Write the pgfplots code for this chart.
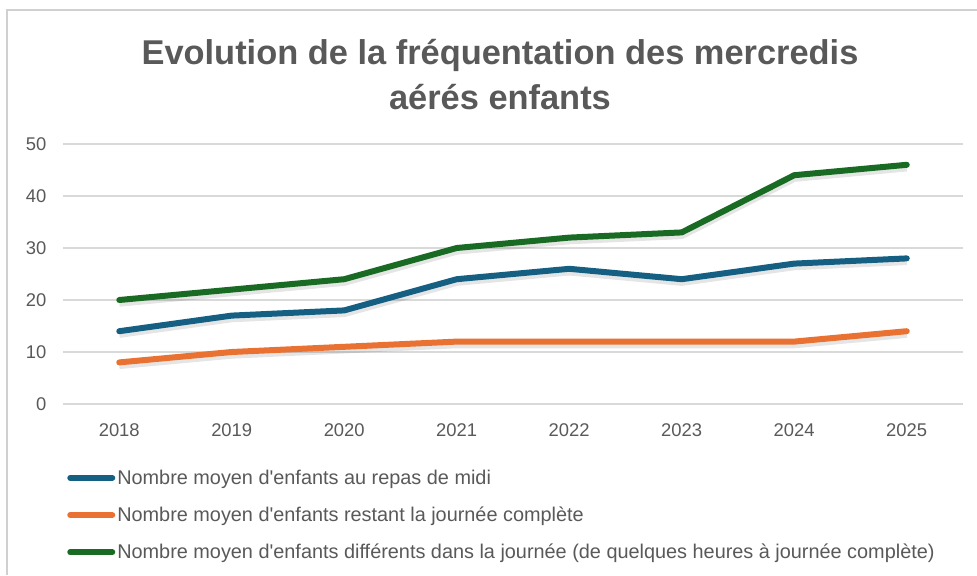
\documentclass[border=0pt]{standalone}
\usepackage{pgfplots}
\pgfplotsset{compat=1.18}
\usepackage{pgfplotstable}
\usepackage{fontspec}
\setmainfont{Liberation Sans}
\definecolor{cblue}{HTML}{156082}
\definecolor{corange}{HTML}{E97132}
\definecolor{cgreen}{HTML}{196B24}
\definecolor{ctext}{HTML}{595959}
\definecolor{cgrid}{HTML}{D9D9D9}
\definecolor{cframe}{HTML}{D0D0D0}

\pgfplotstableread{
year blue orange green
2018 14 8 20
2019 17 10 22
2020 18 11 24
2021 24 12 30
2022 26 12 32
2023 24 12 33
2024 27 12 44
2025 28 14 46
}\data

\begin{document}
\begin{tikzpicture}
\useasboundingbox (0,0) rectangle (732.75pt,431.25pt);
\draw[line width=1pt, cframe] (5.25pt,0) -- (5.25pt,423.75pt) -- (732.75pt,423.75pt);
\node[font=\fontsize{25.8}{34}\selectfont\bfseries, text=ctext, align=center] at (375pt,375.4pt)
  {Evolution de la fréquentation des mercredis\\aérés enfants};
\begin{axis}[
  at={(47.25pt,128.25pt)}, anchor=south west,
  scale only axis, width=675pt, height=195pt,
  xmin=2017.5, xmax=2025.5, ymin=0, ymax=50,
  xtick={2018,2019,...,2025}, ytick={0,10,...,50},
  xticklabel style={/pgf/number format/1000 sep={}, yshift=-11.5pt},
  yticklabel style={xshift=-9pt},
  axis line style={draw=none},
  ymajorgrids, grid style={cgrid, line width=1pt},
  major tick length=0pt,
  tick label style={font=\fontsize{13.8}{16}\selectfont, text=ctext},
  /pgf/number format/assume math mode=true,
  clip=false,
  legend cell align=left,
  legend style={at={(0,0)}, anchor=north west, xshift=3pt, yshift=-47pt,
    draw=none, fill=none, inner sep=0pt, row sep=11.5pt,
    font=\fontsize{14.9}{17}\selectfont, text=ctext,
    nodes={inner xsep=1.5pt}},
  legend image code/.code={\draw[#1, line width=4.5pt, line cap=round] (2.5pt,0pt) -- (34pt,0pt);},
]
\addplot[black, opacity=0.10, line width=6pt, yshift=-2pt, line join=round, forget plot] table[x=year,y=blue]{\data};
\addplot[black, opacity=0.10, line width=6pt, yshift=-2pt, line join=round, forget plot] table[x=year,y=orange]{\data};
\addplot[black, opacity=0.10, line width=6pt, yshift=-2pt, line join=round, forget plot] table[x=year,y=green]{\data};
\addplot[cblue, line width=4.5pt, line join=round, line cap=round] table[x=year,y=blue]{\data};
\addlegendentry{Nombre moyen d\textquotesingle enfants au repas de midi}
\addplot[corange, line width=4.5pt, line join=round, line cap=round] table[x=year,y=orange]{\data};
\addlegendentry{Nombre moyen d\textquotesingle enfants restant la journée complète}
\addplot[cgreen, line width=4.5pt, line join=round, line cap=round] table[x=year,y=green]{\data};
\addlegendentry{Nombre moyen d\textquotesingle enfants différents dans la journée (de quelques heures à journée complète)}
\end{axis}
\end{tikzpicture}
\end{document}
